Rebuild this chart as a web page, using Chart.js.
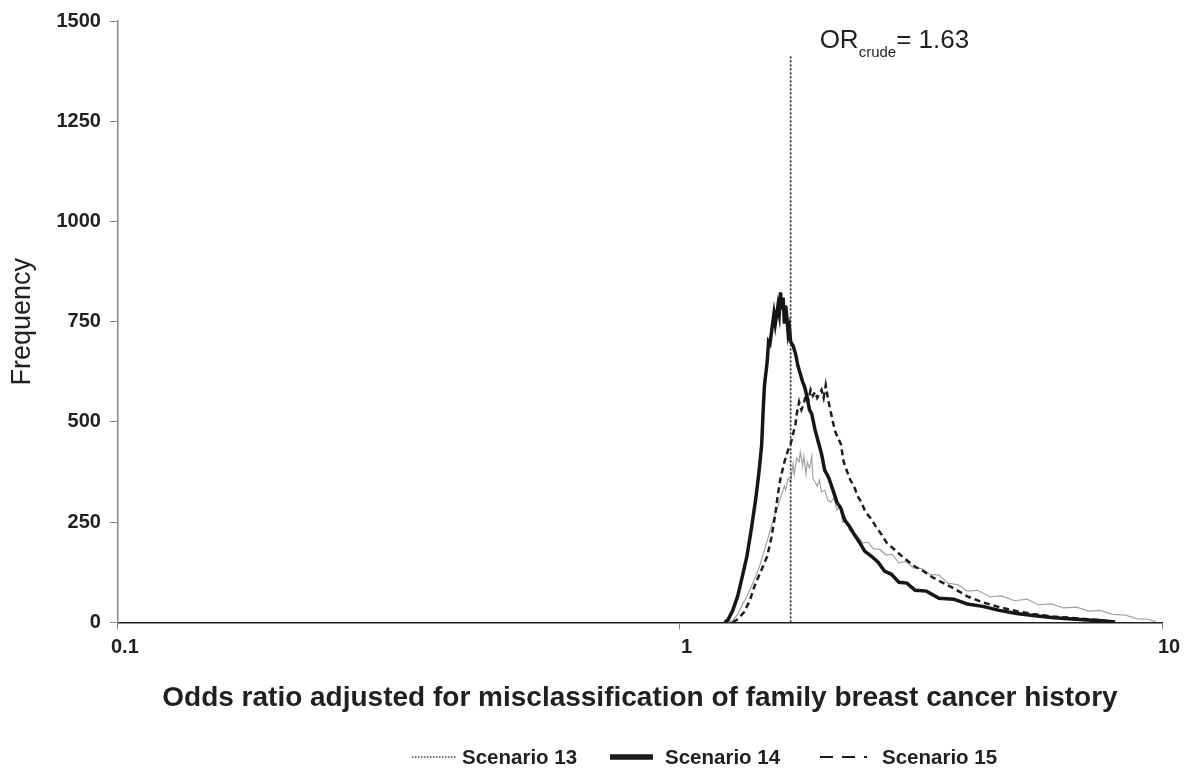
<!DOCTYPE html>
<html>
<head>
<meta charset="utf-8">
<script src="https://cdn.jsdelivr.net/npm/chart.js@4/dist/chart.umd.min.js"></script>
<style>
  html, body { margin: 0; padding: 0; background: #fff; }
  #wrap { width: 1186px; height: 773px; }
</style>
</head>
<body>
<div id="wrap"><canvas id="myChart" width="1186" height="773"></canvas></div>
<script>
// odds ratio (x) and frequency (y)
var or13 = [1.26,1.29,1.32,1.35,1.38,1.41,1.44,1.47,1.50,1.53,1.55,1.57,1.59,1.61,1.63,1.65,1.66,1.68,1.70,1.72,1.73,1.75,1.77,1.78,1.80,1.81,1.83,1.84,1.86,1.88,1.89,1.91,1.93,1.95,1.97,2.00,2.03,2.06,2.09,2.12,2.15,2.18,2.21,2.25,2.30,2.35,2.40,2.46,2.52,2.60,2.68,2.76,2.85,2.95,3.05,3.18,3.30,3.45,3.60,3.78,3.95,4.15,4.40,4.65,4.95,5.25,5.55,5.90,6.25,6.65,7.05,7.45,7.90,8.40,8.90,9.30,9.70];
var freq13 = [0,5,20,45,65,90,115,145,180,215,240,262,280,300,320,340,330,360,350,395,370,410,400,425,390,415,370,400,385,415,360,350,340,355,325,330,305,300,310,280,290,250,260,230,225,212,198,200,184,182,168,170,148,152,136,134,120,118,98,94,78,80,64,66,54,58,44,46,36,38,28,30,20,18,9,8,2];

var or14 = [1.24,1.26,1.29,1.32,1.35,1.38,1.41,1.44,1.46,1.48,1.49,1.50,1.52,1.53,1.54,1.55,1.57,1.58,1.60,1.61,1.62,1.63,1.64,1.65,1.66,1.67,1.68,1.69,1.70,1.72,1.74,1.76,1.78,1.80,1.82,1.84,1.86,1.88,1.91,1.94,1.97,2.00,2.04,2.08,2.12,2.16,2.20,2.25,2.30,2.36,2.42,2.50,2.58,2.66,2.75,2.85,2.96,3.08,3.25,3.45,3.70,3.95,4.25,4.60,5.00,5.40,5.90,6.40,7.00,7.50,8.00];
var freq14 = [0,6,30,65,115,165,235,310,370,440,520,590,650,700,695,720,770,745,790,770,823,780,810,745,790,760,720,735,700,690,670,640,620,600,585,560,530,520,480,450,420,380,360,330,300,285,255,240,220,200,178,165,150,128,120,100,98,80,78,60,58,46,40,30,22,17,12,9,6,4,1];

var or15 = [1.29,1.32,1.36,1.40,1.43,1.46,1.49,1.52,1.55,1.58,1.60,1.62,1.65,1.68,1.70,1.72,1.74,1.75,1.77,1.79,1.81,1.83,1.85,1.87,1.89,1.91,1.93,1.95,1.97,1.99,2.01,2.03,2.05,2.08,2.10,2.13,2.16,2.19,2.22,2.26,2.30,2.34,2.38,2.43,2.49,2.55,2.62,2.69,2.77,2.86,2.96,3.07,3.20,3.35,3.50,3.70,3.95,4.25,4.60,5.00,5.40,5.90,6.40,7.00,7.50,7.90];
var freq15 = [0,8,25,55,90,115,140,165,210,270,320,360,400,430,445,470,495,520,550,530,545,570,555,580,565,575,560,570,580,560,592,560,535,500,478,460,445,400,380,355,340,315,300,275,260,240,220,198,185,170,155,140,128,112,100,85,65,50,38,28,21,15,12,8,5,0];

var crudeLabel = "= 1.63";
var crudeLineX = 1.70;   // where the dotted reference line sits on the drawn axis
var crudeTop = 1413;

var xMin = 0.0686;   // left edge of the axis, labelled 0.1 in the figure
var xTicks = [xMin, 1, 10];
var xTickLabels = ["0.1", "1", "10"];
var yTicks = [0, 250, 500, 750, 1000, 1250, 1500];

var FONT = "'Liberation Sans', Arial, sans-serif";

function pairs(xs, ys) {
  return xs.map(function (x, i) { return {x: x, y: ys[i]}; });
}

var legendItems = [
  {text: "Scenario 13", x0: 412, x1: 456, tx: 462, color: "#444", width: 1.5, dash: [1.5, 1.5]},
  {text: "Scenario 14", x0: 610, x1: 653, tx: 665, color: "#1a1a1a", width: 5.5, dash: []},
  {text: "Scenario 15", x0: 820, x1: 867, tx: 882, color: "#1a1a1a", width: 2, dash: [13, 9]}
];

var overlay = {
  id: "overlay",
  afterDraw: function (chart) {
    var ctx = chart.ctx;
    var xs = chart.scales.x;
    ctx.save();
    ctx.fillStyle = "#231f20";

    // OR crude label
    var lx = xs.getPixelForValue(crudeLineX) + 29;
    var ly = 48;
    ctx.textAlign = "left";
    ctx.textBaseline = "alphabetic";
    ctx.font = "26px " + FONT;
    ctx.fillText("OR", lx, ly);
    lx += ctx.measureText("OR").width;
    ctx.font = "15px " + FONT;
    ctx.fillText("crude", lx, ly + 9);
    lx += ctx.measureText("crude").width;
    ctx.font = "26px " + FONT;
    ctx.fillText(crudeLabel, lx, ly);

    // legend
    var y = 757;
    ctx.font = "bold 20.5px " + FONT;
    ctx.textBaseline = "middle";
    legendItems.forEach(function (it) {
      ctx.beginPath();
      ctx.strokeStyle = it.color;
      ctx.lineWidth = it.width;
      ctx.setLineDash(it.dash);
      ctx.moveTo(it.x0, y);
      ctx.lineTo(it.x1, y);
      ctx.stroke();
      ctx.setLineDash([]);
      ctx.fillText(it.text, it.tx, y + 1);
    });
    ctx.restore();
  }
};

new Chart("myChart", {
  type: "line",
  data: {
    datasets: [{
      label: "Scenario 13",
      data: pairs(or13, freq13),
      borderColor: "#a3a3a3",
      borderWidth: 1.2,
      order: 4
    }, {
      label: "Scenario 15",
      data: pairs(or15, freq15),
      borderColor: "#1e1e1e",
      borderWidth: 2.5,
      borderDash: [6, 4],
      order: 3
    }, {
      label: "Scenario 14",
      data: pairs(or14, freq14),
      borderColor: "#161616",
      borderWidth: 3.5,
      order: 2
    }, {
      label: "crude",
      data: [{x: crudeLineX, y: 0}, {x: crudeLineX, y: crudeTop}],
      borderColor: "#222",
      borderWidth: 1.6,
      borderDash: [2, 2],
      order: 1
    }]
  },
  options: {
    responsive: false,
    animation: false,
    layout: {autoPadding: false, padding: {left: 0, right: 24, top: 14, bottom: 58}},
    elements: {point: {radius: 0}, line: {tension: 0, fill: false}},
    plugins: {legend: {display: false}, tooltip: {enabled: false}},
    scales: {
      x: {
        type: "logarithmic",
        min: xMin,
        max: 10,
        afterBuildTicks: function (axis) {
          axis.ticks = xTicks.map(function (v) { return {value: v}; });
        },
        ticks: {
          autoSkip: false,
          maxRotation: 0,
          padding: 6,
          labelOffset: 7,
          color: "#231f20",
          font: {family: FONT, size: 20, weight: "bold"},
          callback: function (v) {
            var i = xTicks.indexOf(v);
            return i < 0 ? "" : xTickLabels[i];
          }
        },
        grid: {display: true, drawOnChartArea: false, drawTicks: true, tickLength: 7, color: "#888"},
        border: {display: true, color: "#231f20", width: 1.5},
        title: {
          display: true,
          text: "Odds ratio adjusted for misclassification of family breast cancer history",
          color: "#231f20",
          font: {family: FONT, size: 28, weight: "bold"},
          padding: {top: 16, bottom: 0}
        }
      },
      y: {
        min: 0,
        max: 1500,
        afterBuildTicks: function (axis) {
          axis.ticks = yTicks.map(function (v) { return {value: v}; });
        },
        ticks: {
          padding: 9,
          color: "#231f20",
          font: {family: FONT, size: 20, weight: "bold"},
          callback: function (v) { return String(v); }
        },
        grid: {display: true, drawOnChartArea: false, drawTicks: true, tickLength: 8, color: "#888"},
        border: {display: true, color: "#888", width: 1.5},
        title: {
          display: true,
          text: "Frequency",
          color: "#231f20",
          font: {family: FONT, size: 27},
          padding: {top: 6, bottom: 9}
        }
      }
    }
  },
  plugins: [overlay]
});
</script>
</body>
</html>
